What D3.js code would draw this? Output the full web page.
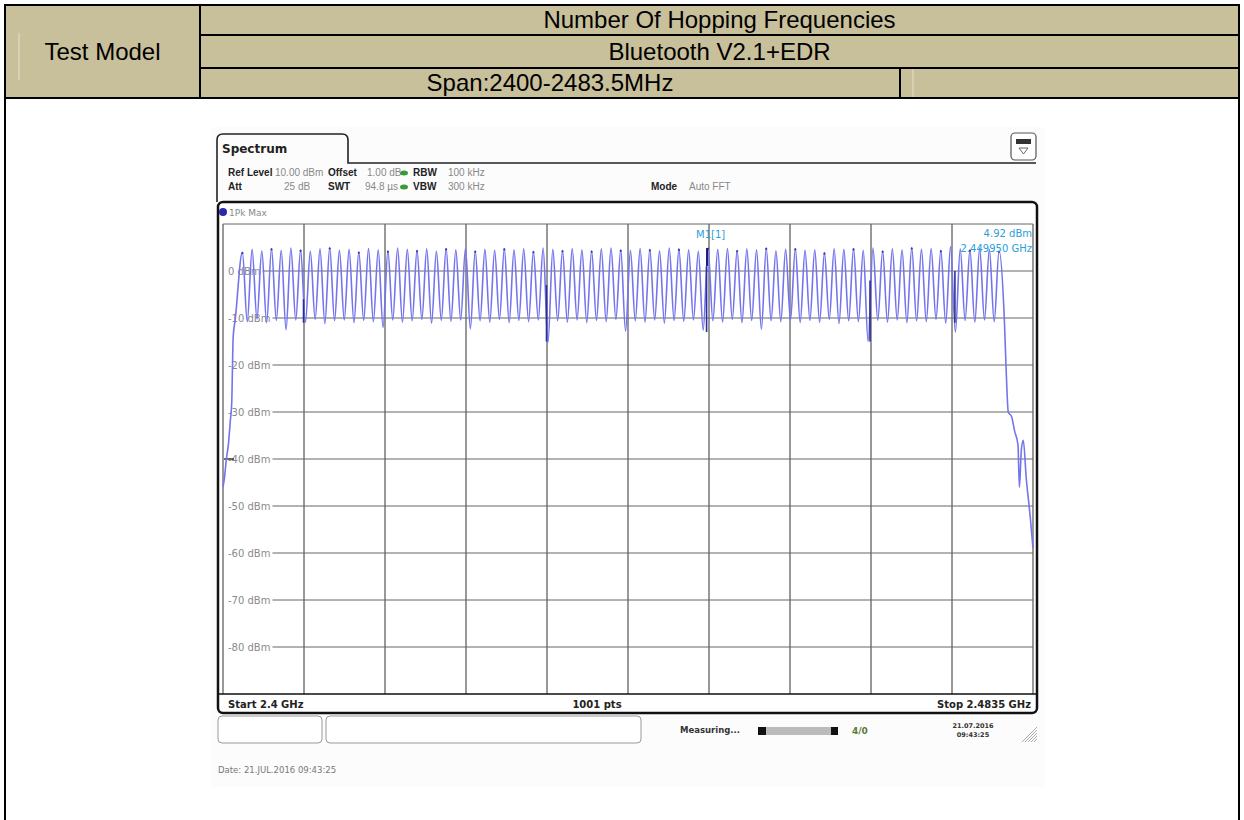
<!DOCTYPE html>
<html><head><meta charset="utf-8">
<script src="https://cdn.jsdelivr.net/npm/d3@7"></script>
<style>
body{margin:0;background:#fff;}
svg{display:block;font-family:"Liberation Sans",Arial,sans-serif;}
</style>
</head><body>
<svg id="c" width="1244" height="820"></svg>
<script>
// ---------- data ----------
const headerRows = ["Number Of Hopping Frequencies", "Bluetooth V2.1+EDR", "Span:2400-2483.5MHz"];
const testModelLabel = "Test Model";
const yTickValues = [0, -10, -20, -30, -40, -50, -60, -70, -80];
const xGridFreqs = [2400, 2408.35, 2416.7, 2425.05, 2433.4, 2441.75, 2450.1, 2458.45, 2466.8, 2475.15, 2483.5];
const channelsMHz = [
  2402,2403,2404,2405,2406,2407,2408,2409,2410,2411,
  2412,2413,2414,2415,2416,2417,2418,2419,2420,2421,
  2422,2423,2424,2425,2426,2427,2428,2429,2430,2431,
  2432,2433,2434,2435,2436,2437,2438,2439,2440,2441,
  2442,2443,2444,2445,2446,2447,2448,2449,2450,2451,
  2452,2453,2454,2455,2456,2457,2458,2459,2460,2461,
  2462,2463,2464,2465,2466,2467,2468,2469,2470,2471,
  2472,2473,2474,2475,2476,2477,2478,2479,2480];
const peakDbm = [
  4.0,4.6,4.3,4.8,4.4,4.9,4.5,4.2,4.7,5.0,
  4.4,4.6,4.1,4.8,4.5,4.3,4.9,4.6,4.4,4.7,
  4.2,4.8,4.5,4.9,4.3,4.6,4.4,4.8,4.5,4.7,
  4.2,4.9,4.6,4.4,4.8,4.5,4.3,4.7,4.9,4.5,
  4.4,4.8,4.6,4.3,4.9,4.7,4.5,4.2,4.9,4.6,
  4.8,4.4,4.7,4.5,4.9,4.3,4.6,4.8,4.4,4.5,
  3.9,4.7,4.6,4.8,4.4,4.9,4.3,4.7,4.5,5.0,
  4.6,4.8,4.4,5.2,4.7,4.5,4.9,4.6,4.3];
const troughDbm = [
  -10.8,-10.2,-11.0,-10.5,-12.5,-10.4,-10.9,-10.3,-11.2,-10.6,
  -10.4,-11.0,-10.5,-10.8,-12.0,-10.4,-10.9,-10.6,-10.3,-11.1,
  -10.5,-10.7,-10.4,-12.3,-10.6,-10.9,-10.3,-11.0,-10.5,-10.8,
  -10.4,-15.2,-10.6,-10.9,-10.4,-11.0,-10.5,-10.8,-10.3,-12.8,
  -10.6,-10.9,-10.4,-11.1,-10.5,-10.7,-10.4,-12.6,-10.6,-10.9,
  -10.3,-11.0,-10.5,-12.4,-10.6,-10.8,-10.4,-11.0,-10.5,-10.9,
  -10.3,-11.2,-10.6,-10.8,-15.0,-10.5,-10.9,-10.4,-11.0,-10.6,
  -10.8,-10.3,-11.1,-13.0,-10.5,-10.9,-10.4,-10.8];
const leftEdge = [[2400.0,-46],[2400.15,-44],[2400.35,-40],[2400.55,-37],[2400.75,-32],[2400.9,-28],[2401.05,-14],[2401.25,-10.5]];
const rightEdge = [[2480.55,-10.5],[2480.75,-22],[2480.95,-30],[2481.3,-31],[2481.6,-34],[2481.95,-37],[2482.1,-46],[2482.3,-38],[2482.5,-36],[2482.8,-44],[2483.2,-52],[2483.5,-59]];
const darkSpikes = [[2433.35,-3,-15],[2449.85,1,-13],[2466.7,-2,-15],[2475.45,0,-11],[2408.3,-6,-11]];
const marker = {label:"M1[1]", freq:2450, level:4.9, readLevel:"4.92 dBm", readFreq:"2.449950 GHz"};
const headerInfo1 = [["Ref Level",true,228],["10.00 dBm",false,275],["Offset",true,328],["1.00 dB",false,367],["RBW",true,413],["100 kHz",false,448]];
const headerInfo2 = [["Att",true,228],["25 dB",false,284],["SWT",true,328],["94.8 µs",false,365],["VBW",true,413],["300 kHz",false,448],["Mode",true,651],["Auto FFT",false,689]];

// ---------- drawing ----------
const svg = d3.select("#c");
const tan = "#c8bf9b";

// header table
const rowY = [5, 35, 68, 98];
const tbl = svg.append("g");
tbl.append("rect").attr("x",5).attr("y",rowY[0]).attr("width",1234).attr("height",rowY[3]-rowY[0]).attr("fill",tan);
[rowY[1], rowY[2]].forEach(yy=>tbl.append("line").attr("x1",200).attr("x2",1239).attr("y1",yy).attr("y2",yy).attr("stroke","#000").attr("stroke-width",2));
tbl.append("line").attr("x1",200).attr("x2",200).attr("y1",rowY[0]).attr("y2",rowY[3]).attr("stroke","#000").attr("stroke-width",2);
tbl.append("line").attr("x1",900).attr("x2",900).attr("y1",rowY[2]).attr("y2",rowY[3]).attr("stroke","#000").attr("stroke-width",2);
tbl.append("line").attr("x1",913).attr("x2",913).attr("y1",rowY[2]+1).attr("y2",rowY[3]-1).attr("stroke","#e6e0c8").attr("stroke-width",1);
tbl.append("line").attr("x1",19).attr("x2",19).attr("y1",33).attr("y2",80).attr("stroke","#e6e0c8").attr("stroke-width",1);
svg.append("rect").attr("x",5).attr("y",rowY[0]).attr("width",1234).attr("height",rowY[3]-rowY[0]).attr("fill","none").attr("stroke","#000").attr("stroke-width",2);
svg.append("line").attr("x1",5).attr("x2",5).attr("y1",rowY[3]).attr("y2",822).attr("stroke","#000").attr("stroke-width",2);
svg.append("line").attr("x1",1239).attr("x2",1239).attr("y1",rowY[3]).attr("y2",822).attr("stroke","#000").attr("stroke-width",2);

const hdrFont = 24;
tbl.append("text").attr("x",102.5).attr("y",60).attr("text-anchor","middle").attr("font-size",hdrFont).text(testModelLabel);
tbl.append("text").attr("x",719.5).attr("y",28).attr("text-anchor","middle").attr("font-size",hdrFont).text(headerRows[0]);
tbl.append("text").attr("x",719.5).attr("y",60).attr("text-anchor","middle").attr("font-size",hdrFont).text(headerRows[1]);
tbl.append("text").attr("x",550).attr("y",91).attr("text-anchor","middle").attr("font-size",hdrFont).text(headerRows[2]);

// ---------- spectrum screenshot ----------
const sp = svg.append("g").attr("font-family","'DejaVu Sans',Verdana,sans-serif");
sp.append("rect").attr("x",211).attr("y",127).attr("width",834).attr("height",660).attr("fill","#fcfcfc");

sp.append("path")
  .attr("d","M217,202 L217,140 Q217,134 223,134 L342,134 Q348,134 348,140 L348,163 L1036,163")
  .attr("fill","none").attr("stroke","#222").attr("stroke-width",1.6);
sp.append("text").attr("x",222).attr("y",153).attr("font-size",12).attr("font-weight","bold").attr("fill","#222").text("Spectrum");
sp.append("rect").attr("x",1011).attr("y",133).attr("width",25).attr("height",27).attr("rx",4).attr("fill","#fff").attr("stroke","#555").attr("stroke-width",1.2);
sp.append("rect").attr("x",1016).attr("y",139).attr("width",15).attr("height",5).attr("fill","#333");
sp.append("path").attr("d","M1019,148 L1028,148 L1023.5,154 Z").attr("fill","none").attr("stroke","#666");

function infoRow(items, y){
  items.forEach(([t,b,x])=>{
    sp.append("text").attr("x",x).attr("y",y).attr("font-family","'Liberation Sans',Arial,sans-serif")
      .attr("font-size",10).attr("font-weight",b?"bold":"normal")
      .attr("fill",b?"#222":"#888").text(t);
  });
}
infoRow(headerInfo1, 176);
infoRow(headerInfo2, 190);
[[404,173],[404,187]].forEach(([x,y])=>sp.append("ellipse").attr("cx",x).attr("cy",y).attr("rx",4).attr("ry",2.5).attr("fill","#3a9a3a"));

sp.append("rect").attr("x",218).attr("y",202).attr("width",819).attr("height",511).attr("rx",5)
  .attr("fill","#fff").attr("stroke","#111").attr("stroke-width",2.5);
sp.append("circle").attr("cx",223).attr("cy",212).attr("r",4).attr("fill","#2a2aa8");
sp.append("text").attr("x",229).attr("y",216).attr("font-size",9).attr("fill","#888").text("1Pk Max");

const x = d3.scaleLinear().domain([2400, 2483.5]).range([223, 1033]);
const y = d3.scaleLinear().domain([10, -90]).range([224, 694]);

const grid = sp.append("g");
grid.selectAll("line.v").data(xGridFreqs).join("line")
  .attr("x1",d=>x(d)).attr("x2",d=>x(d)).attr("y1",y(10)).attr("y2",y(-90))
  .attr("stroke","#333").attr("stroke-width",1);
grid.append("line").attr("x1",x(2400)).attr("x2",x(2483.5)).attr("y1",y(10)).attr("y2",y(10)).attr("stroke","#666");
grid.append("line").attr("x1",218).attr("x2",1037).attr("y1",y(-90)).attr("y2",y(-90)).attr("stroke","#111").attr("stroke-width",1.5);
yTickValues.forEach(v=>{
  const t = grid.append("text").attr("x",228).attr("y",y(v)+3.5).attr("font-size",10).attr("fill","#8a8a8a").text(v+" dBm");
  const w = t.node().getComputedTextLength();
  grid.append("line").attr("x1",228+w+2).attr("x2",x(2483.5)).attr("y1",y(v)).attr("y2",y(v)).attr("stroke","#666").attr("stroke-width",1);
});
grid.append("line").attr("x1",224).attr("x2",234).attr("y1",y(-40)).attr("y2",y(-40)).attr("stroke","#000").attr("stroke-width",1.2);

// trace
const pts = [];
leftEdge.forEach(p=>pts.push(p));
channelsMHz.forEach((f,i)=>{
  pts.push([f, peakDbm[i]]);
  if(i < channelsMHz.length-1) pts.push([(f+channelsMHz[i+1])/2, troughDbm[i]]);
});
rightEdge.forEach(p=>pts.push(p));
const line = d3.line().x(d=>x(d[0])).y(d=>y(d[1])).curve(d3.curveMonotoneX);
sp.append("path").attr("d",line(pts)).attr("fill","none").attr("stroke","#7474ee").attr("stroke-width",1.6);
sp.selectAll("line.spk").data(darkSpikes).join("line")
  .attr("x1",d=>x(d[0])).attr("x2",d=>x(d[0])).attr("y1",d=>y(d[1])).attr("y2",d=>y(d[2]))
  .attr("stroke","#2c2c9a").attr("stroke-width",1.6);
sp.selectAll("circle.pk").data(channelsMHz.filter((d,i)=>i%3===0)).join("circle")
  .attr("cx",d=>x(d)).attr("cy",d=>y(peakDbm[channelsMHz.indexOf(d)])+1).attr("r",1.1).attr("fill","#3a3aa8");

// marker
const mc = "#2aa0d8";
sp.append("path").attr("d",`M${x(marker.freq)-1},${y(marker.level)} l0,18`).attr("stroke","#1c1c80").attr("stroke-width",2);
sp.append("text").attr("x",x(marker.freq)-12).attr("y",238).attr("font-size",10).attr("fill",mc).text(marker.label);
sp.append("text").attr("x",1032).attr("y",237).attr("text-anchor","end").attr("font-size",10).attr("fill",mc).text(marker.readLevel);
sp.append("text").attr("x",1032).attr("y",252).attr("text-anchor","end").attr("font-size",10).attr("fill",mc).text(marker.readFreq);

// bottom bar
sp.append("text").attr("x",228).attr("y",708).attr("font-size",10).attr("font-weight","bold").attr("fill","#222").text("Start 2.4 GHz");
sp.append("text").attr("x",597).attr("y",708).attr("text-anchor","middle").attr("font-size",10).attr("font-weight","bold").attr("fill","#222").text("1001 pts");
sp.append("text").attr("x",1031).attr("y",708).attr("text-anchor","end").attr("font-size",10).attr("font-weight","bold").attr("fill","#222").text("Stop 2.4835 GHz");

// status bar
sp.append("rect").attr("x",218).attr("y",716).attr("width",104).attr("height",27).attr("rx",4).attr("fill","#fff").attr("stroke","#999");
sp.append("rect").attr("x",326).attr("y",716).attr("width",315).attr("height",27).attr("rx",4).attr("fill","#fff").attr("stroke","#999");
sp.append("text").attr("x",680).attr("y",733).attr("font-size",8.5).attr("font-weight","bold").attr("fill","#333").text("Measuring...");
sp.append("rect").attr("x",758).attr("y",727).attr("width",80).attr("height",8).attr("fill","#bbb");
sp.append("rect").attr("x",758).attr("y",727).attr("width",8).attr("height",8).attr("fill","#111");
sp.append("rect").attr("x",831).attr("y",727).attr("width",7).attr("height",8).attr("fill","#111");
sp.append("text").attr("x",852).attr("y",734).attr("font-size",9).attr("font-weight","bold").attr("fill","#5a7a3a").text("4/0");
sp.append("text").attr("x",973).attr("y",728).attr("text-anchor","middle").attr("font-size",6.5).attr("font-weight","bold").attr("fill","#333").text("21.07.2016");
sp.append("text").attr("x",973).attr("y",737).attr("text-anchor","middle").attr("font-size",6.5).attr("font-weight","bold").attr("fill","#333").text("09:43:25");
for(let k=0;k<5;k++){
  sp.append("line").attr("x1",1022+k*3).attr("y1",742).attr("x2",1037).attr("y2",727+k*3).attr("stroke","#aaa");
}
sp.append("text").attr("x",218).attr("y",773).attr("font-size",8.5).attr("fill","#777").text("Date: 21.JUL.2016  09:43:25");
</script>
</body></html>
